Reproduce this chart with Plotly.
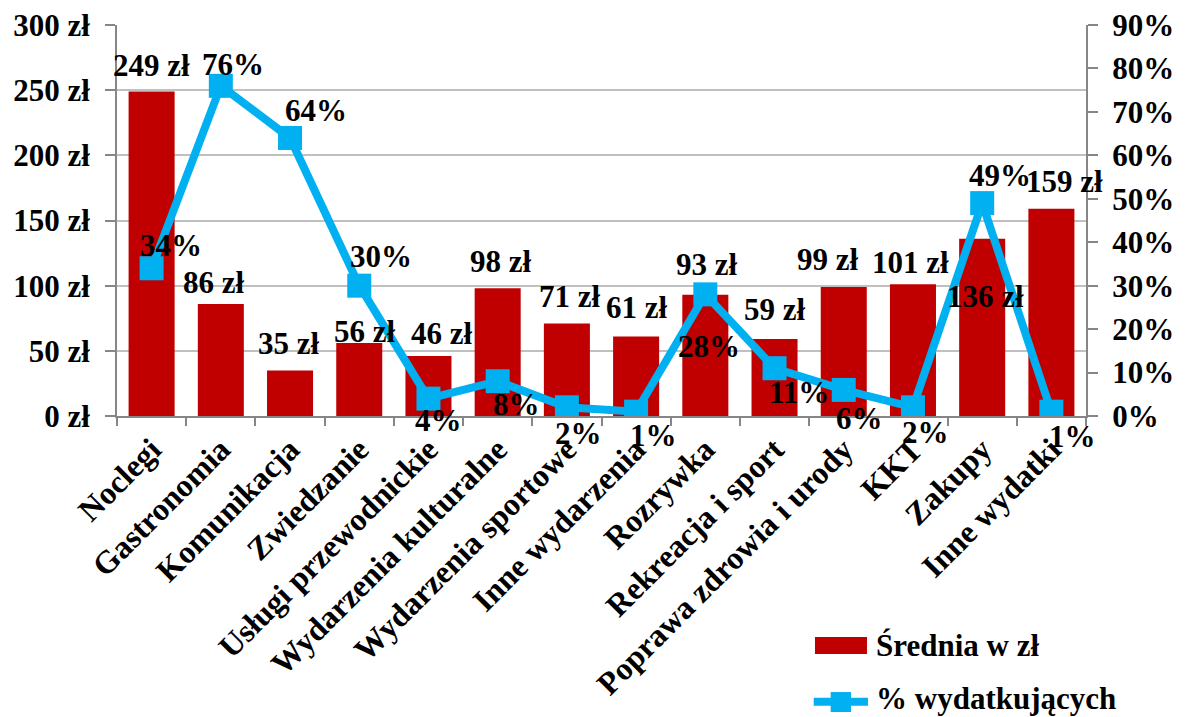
import plotly.graph_objects as go

categories = ["Noclegi", "Gastronomia", "Komunikacja", "Zwiedzanie",
              "Usługi przewodnickie", "Wydarzenia kulturalne", "Wydarzenia sportowe",
              "Inne wydarzenia", "Rozrywka", "Rekreacja i sport",
              "Poprawa zdrowia i urody", "KKT", "Zakupy", "Inne wydatki"]
avg_pln = [249, 86, 35, 56, 46, 98, 71, 61, 93, 59, 99, 101, 136, 159]
pct_spending = [34, 76, 64, 30, 4, 8, 2, 1, 28, 11, 6, 2, 49, 1]
left_ticks = [0, 50, 100, 150, 200, 250, 300]
left_tick_text = ["0 zł", "50 zł", "100 zł", "150 zł", "200 zł", "250 zł", "300 zł"]
right_ticks = [0, 10, 20, 30, 40, 50, 60, 70, 80, 90]
right_tick_text = ["0%", "10%", "20%", "30%", "40%", "50%", "60%", "70%", "80%", "90%"]

# label offsets in px (dx right, dy down)
bar_label_off = [(0, -27), (-7, -22), (-1, -28), (6, -13), (14, -24), (3, -28), (3, -28),
                 (1, -30), (2, -31), (0, -31), (-16, -28), (-2, -23), (3, 57), (13, -28)]
pct_label_off = [(19, -24), (12, -22), (26, -28), (22, -30), (10, 21), (19, 22), (12, 25),
                 (17, 23), (4, 51), (24, 23), (16, 28), (13, 24), (18, -29), (21, 24)]

RED = "#C00000"
BLUE = "#00B0F0"
FONT = "Liberation Serif"
FS = 31
FS_CAT = 32
GRAY = "#868686"

def f(size=FS):
    return dict(family=FONT, size=size, color="black", weight="bold")

fig = go.Figure()
fig.add_trace(go.Bar(x=categories, y=avg_pln, name="Średnia w zł",
                     marker=dict(color=RED, line=dict(width=0)), showlegend=False))
fig.add_trace(go.Scatter(x=categories, y=pct_spending, name="% wydatkujących", yaxis="y2",
                         mode="lines+markers",
                         line=dict(color=BLUE, width=8),
                         marker=dict(symbol="square", size=24, color=BLUE),
                         showlegend=False))

annotations = []
for c, v, (dx, dy) in zip(categories, avg_pln, bar_label_off):
    annotations.append(dict(x=c, y=v, xref="x", yref="y", text=f"{v} zł", showarrow=False,
                            xshift=dx, yshift=-dy - 1, xanchor="center", yanchor="middle",
                            font=f()))
for c, p, (dx, dy) in zip(categories, pct_spending, pct_label_off):
    annotations.append(dict(x=c, y=p, xref="x", yref="y2", text=f"{p}%", showarrow=False,
                            xshift=dx, yshift=-dy - 1, xanchor="center", yanchor="middle",
                            font=f()))

# custom legend
annotations.append(dict(x=0.781, y=-0.588, xref="paper", yref="paper", text="Średnia w zł",
                        showarrow=False, xanchor="left", yanchor="middle", font=f()))
annotations.append(dict(x=0.781, y=-0.722, xref="paper", yref="paper", text="% wydatkujących",
                        showarrow=False, xanchor="left", yanchor="middle", font=f()))
shapes = [
    dict(type="rect", xref="paper", yref="paper", x0=0.7203, x1=0.774, y0=-0.609, y1=-0.565,
         fillcolor=RED, line=dict(width=0)),
    dict(type="line", xref="paper", yref="paper", x0=0.719, x1=0.775, y0=-0.731, y1=-0.731,
         line=dict(color=BLUE, width=8)),
    dict(type="rect", xref="paper", yref="paper", x0=0.7365, x1=0.7575, y0=-0.757, y1=-0.706,
         fillcolor=BLUE, line=dict(width=0)),
]

# page body has an 8px margin: figure sized/offset so the plot lands where the reference has it
fig.update_layout(
    width=1179, height=709,
    margin=dict(l=109, r=101, t=17, b=301, autoexpand=False),
    paper_bgcolor="white", plot_bgcolor="white",
    bargap=0.335,
    font=f(),
    xaxis=dict(type="category", range=[-0.5, len(categories) - 0.5], tickangle=-45,
               tickson="boundaries", ticks="outside", automargin=False,
               ticklen=8, tickcolor=GRAY, tickwidth=2, showline=True, linecolor=GRAY,
               linewidth=2, showgrid=False, tickfont=f(FS_CAT)),
    yaxis=dict(range=[0, 300], tickvals=left_ticks, ticktext=left_tick_text, ticks="outside",
               ticklen=10, tickcolor=GRAY, tickwidth=2, showline=True, linecolor=GRAY,
               linewidth=2, showgrid=True, gridcolor="#C0C0C0", gridwidth=1.5,
               zeroline=False, ticklabelstandoff=9, tickfont=f(), automargin=False,
               ticklabeloverflow="allow"),
    yaxis2=dict(range=[0, 90], tickvals=right_ticks, ticktext=right_tick_text, overlaying="y",
                side="right", ticks="outside", ticklen=10, tickcolor=GRAY, tickwidth=2,
                showline=True, linecolor=GRAY, linewidth=2, showgrid=False, zeroline=False,
                ticklabelstandoff=8, tickfont=f(), automargin=False,
                ticklabeloverflow="allow"),
    annotations=annotations,
    shapes=shapes,
)

fig.write_html("out.html")
